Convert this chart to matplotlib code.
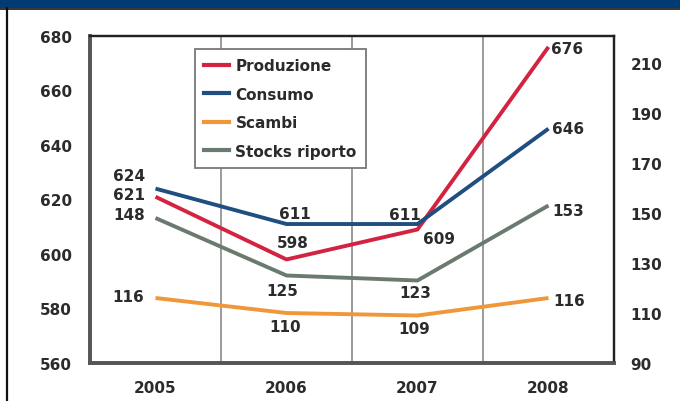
import matplotlib.pyplot as plt
from matplotlib.lines import Line2D
from matplotlib.patches import Rectangle

years = ["2005", "2006", "2007", "2008"]
produzione = [621, 598, 609, 676]
consumo = [624, 611, 611, 646]
scambi = [116, 110, 109, 116]
stocks = [148, 125, 123, 153]

left_ticks = [560, 580, 600, 620, 640, 660, 680]
right_ticks = [90, 110, 130, 150, 170, 190, 210]

c_prod = "#d42341"
c_cons = "#1f4e80"
c_scam = "#f0973a"
c_stock = "#6b7a6e"
txt = "#2b2b2b"

plt.rcParams['font.family'] = ['DejaVu Sans']

W, H = 680, 402
fig = plt.figure(figsize=(W / 100, H / 100), dpi=100)
fig.patch.set_facecolor("white")

# frame decoration: blue band on top, dark line on the left
fig.add_artist(Rectangle((0, 1 - 9 / H), 1, 9 / H, transform=fig.transFigure,
                         facecolor="#003b73", edgecolor="none"))
fig.add_artist(Line2D([0, 1], [1 - 9.5 / H] * 2, transform=fig.transFigure,
                      color="#111111", lw=1.2))
fig.add_artist(Line2D([6.5 / W] * 2, [0, 1 - 9 / H], transform=fig.transFigure,
                      color="#111111", lw=1.6))

ax = fig.add_axes([90 / W, (H - 364) / H, (614 - 90) / W, (364 - 37) / H])
ax2 = ax.twinx()

x = list(range(len(years)))

for b in [0.5, 1.5, 2.5]:
    ax.axvline(b, color="#8a8a8a", lw=1.2, zorder=1)

ax.plot(x, produzione, color=c_prod, lw=2.8, solid_capstyle="butt", zorder=3)
ax.plot(x, consumo, color=c_cons, lw=2.8, solid_capstyle="butt", zorder=3)
ax2.plot(x, scambi, color=c_scam, lw=2.8, solid_capstyle="butt", zorder=3)
ax2.plot(x, stocks, color=c_stock, lw=2.8, solid_capstyle="butt", zorder=3)

ax.set_xlim(-0.5, 3.5)
ax.set_ylim(560, 680)
ax2.set_ylim(90, 220.8)
ax.set_xticks(x)
ax.set_xticklabels(years)
ax.set_yticks(left_ticks)
ax2.set_yticks(right_ticks)

ax.tick_params(axis="x", length=0, pad=12, labelsize=11, labelcolor=txt)
ax.tick_params(axis="y", length=0, pad=13, labelsize=11, labelcolor=txt)
ax2.tick_params(axis="y", length=0, pad=12, labelsize=11, labelcolor=txt)
for lab in ax.get_xticklabels() + ax.get_yticklabels() + ax2.get_yticklabels():
    lab.set_fontweight("bold")

for a in (ax, ax2):
    a.spines["left"].set_color("#555555")
    a.spines["left"].set_linewidth(2.6)
    a.spines["bottom"].set_color("#555555")
    a.spines["bottom"].set_linewidth(2.6)
    a.spines["top"].set_color("#222222")
    a.spines["top"].set_linewidth(1.6)
    a.spines["right"].set_color("#222222")
    a.spines["right"].set_linewidth(1.6)


def label(axis, xi, yv, dx, dy):
    axis.annotate(str(yv), (xi, yv), xytext=(dx, dy), textcoords="offset pixels",
                  ha="center", va="center", fontsize=11, fontweight="bold",
                  color=txt, zorder=5)


# offsets in pixels for each value label
label(ax, 0, consumo[0], -26, 13)
label(ax, 0, produzione[0], -26, 2)
label(ax2, 0, stocks[0], -26, 3)
label(ax2, 0, scambi[0], -27, 2)

label(ax, 1, consumo[1], 8, 11)
label(ax, 1, produzione[1], 6, 17)
label(ax2, 1, stocks[1], -4, -15)
label(ax2, 1, scambi[1], -1, -14)

label(ax, 2, consumo[2], -13, 10)
label(ax, 2, produzione[2], 22, -9)
label(ax2, 2, stocks[2], -2, -12)
label(ax2, 2, scambi[2], -3, -13)

label(ax, 3, produzione[3], 19, -2)
label(ax, 3, consumo[3], 20, 0)
label(ax2, 3, stocks[3], 20, -5)
label(ax2, 3, scambi[3], 21, -2)

handles = [Line2D([], [], color=c, lw=3) for c in (c_prod, c_cons, c_scam, c_stock)]
leg = ax2.legend(handles, ["Produzione", "Consumo", "Scambi", "Stocks riporto"],
                 loc="upper left", bbox_to_anchor=(0.2004, 0.96), borderaxespad=0,
                 fancybox=False, framealpha=1, edgecolor="#777777",
                 prop={"size": 11, "weight": "bold"}, handlelength=1.6,
                 handletextpad=0.45, labelspacing=0.88, borderpad=0.6)
leg.get_frame().set_linewidth(1.3)
for t in leg.get_texts():
    t.set_color(txt)

fig.savefig("out.png", dpi=100)
